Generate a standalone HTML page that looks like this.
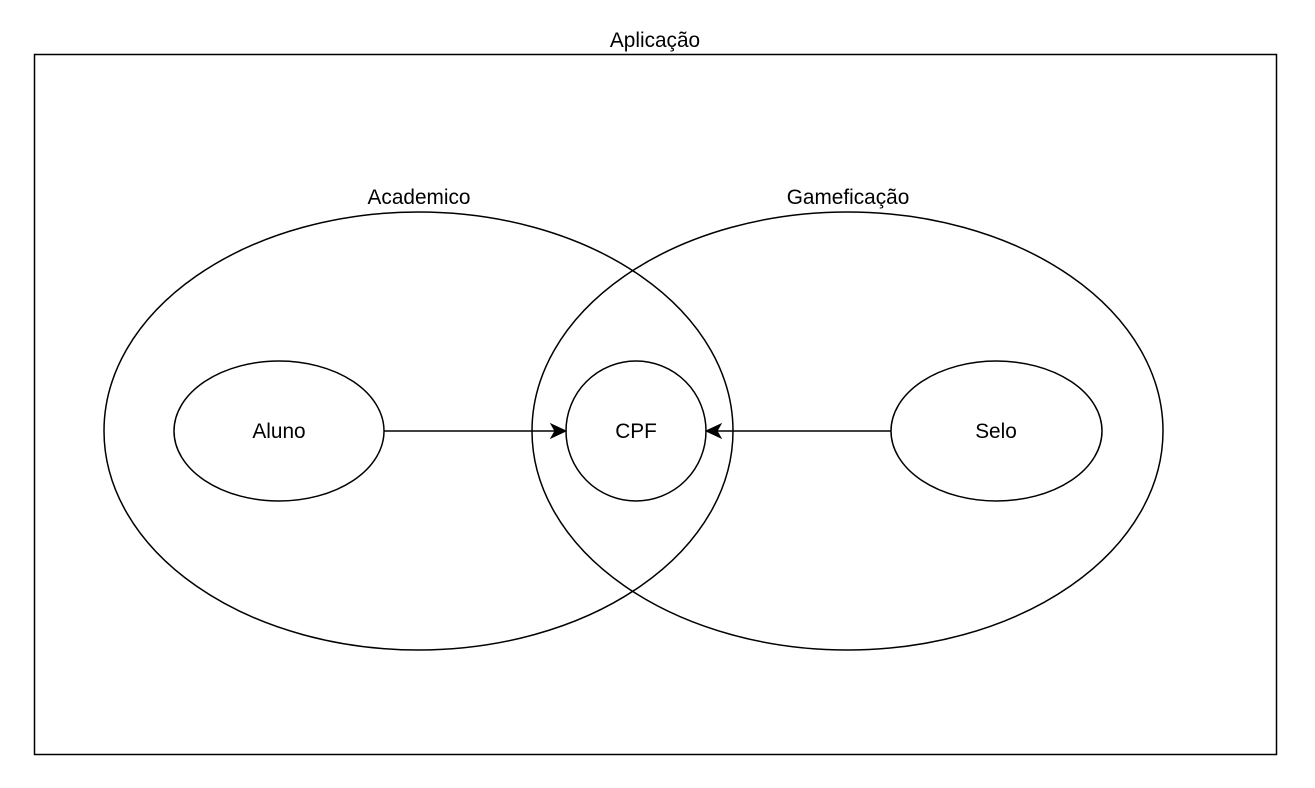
<!DOCTYPE html>
<html><head><meta charset="utf-8"><style>
html,body{margin:0;padding:0;background:#fff;}
svg{display:block;}
text{font-family:"Liberation Sans",Arial,sans-serif;font-size:20.8px;fill:#000;}
</style></head><body>
<svg width="1315" height="788" viewBox="0 0 1315 788" xmlns="http://www.w3.org/2000/svg">
<rect x="34.5" y="54.5" width="1242" height="700" fill="#fff" stroke="#000" stroke-width="1.5"/>
<text x="655" y="47" text-anchor="middle">Aplicação</text>
<ellipse cx="418.5" cy="431" rx="314.5" ry="219" fill="none" stroke="#000" stroke-width="1.5"/>
<ellipse cx="847.5" cy="431" rx="315.5" ry="219" fill="none" stroke="#000" stroke-width="1.5"/>
<text x="419" y="204" text-anchor="middle">Academico</text>
<text x="848" y="204" text-anchor="middle">Gameficação</text>
<ellipse cx="279" cy="431" rx="105" ry="70" fill="none" stroke="#000" stroke-width="1.5"/>
<circle cx="636" cy="431" r="70" fill="none" stroke="#000" stroke-width="1.5"/>
<ellipse cx="996.5" cy="431" rx="105.5" ry="70" fill="none" stroke="#000" stroke-width="1.5"/>
<text x="279" y="438" text-anchor="middle">Aluno</text>
<text x="636" y="438" text-anchor="middle">CPF</text>
<text x="996" y="438" text-anchor="middle">Selo</text>
<line x1="384" y1="431" x2="556" y2="431" stroke="#000" stroke-width="1.5"/>
<path d="M566 431 L551 424 L555 431 L551 438 Z" fill="#000" stroke="#000"/>
<line x1="891" y1="431" x2="716" y2="431" stroke="#000" stroke-width="1.5"/>
<path d="M706 431 L721 424 L717 431 L721 438 Z" fill="#000" stroke="#000"/>
</svg>
</body></html>
